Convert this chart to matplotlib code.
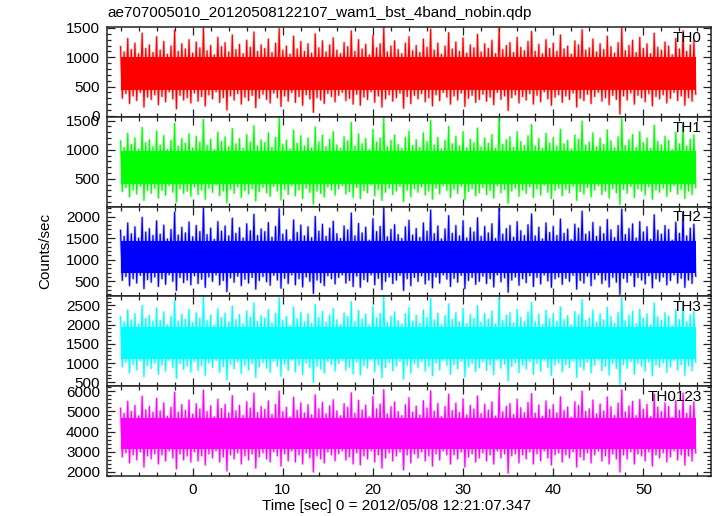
import matplotlib
matplotlib.use("Agg")
import matplotlib.pyplot as plt
from matplotlib.ticker import MultipleLocator, AutoMinorLocator
import numpy as np

plt.rcParams['font.family'] = ['Liberation Sans', 'DejaVu Sans']

title = "ae707005010_20120508122107_wam1_bst_4band_nobin.qdp"
xlabel = "Time [sec] 0 = 2012/05/08 12:21:07.347"
ylabel = "Counts/sec"
labels = ["TH0", "TH1", "TH2", "TH3", "TH0123"]
colors = ["#ff0000", "#00ff00", "#0000ff", "#00ffff", "#ff00ff"]
t_start, t_end = -8.0, 56.0

# per-bin maximum / minimum of the light curves (counts/sec)
th0_hi = [1180,1090,1320,1130,1240,1060,1410,1150,1210,1080,1350,1120,1270,1050,1190,1460,1100,1230,1140,1300,
          1070,1260,1160,1500,1110,1200,1040,1340,1180,1250,1090,1380,1130,1220,1060,1290,1170,1430,1100,1210,
          1150,1310,1080,1240,1490,1120,1190,1050,1360,1140,1270,1100,1230,1070,1400,1160,1280,1090,1210,1330,
          1120,1060,1250,1180,1450,1100,1300,1140,1220,1040,1370,1160,1230,1510,1090,1190,1280,1130,1060,1240,
          1350,1110,1200,1080,1310,1170,1480,1120,1240,1050,1190,1420,1140,1260,1100,1330,1070,1210,1160,1390,
          1090,1230,1150,1290,1060,1500,1130,1200,1250,1080,1340,1170,1110,1270,1440,1100,1220,1060,1300,1150,
          1240,1100,1380,1140,1190,1050,1280,1210,1470,1120,1160,1310,1090,1230,1130,1360,1180,1070,1250,1500,
          1110,1200,1290,1080,1340,1150,1230,1060,1410,1170,1120,1260,1190,1040,1320,1140,1450,1100,1210,1280]
th0_lo = [300,380,210,340,260,400,150,320,280,360,190,330,240,410,290,120,350,270,310,220,
          390,250,330,170,360,290,410,230,310,100,340,270,380,200,320,260,350,140,300,370,
          280,220,390,310,160,340,250,400,230,330,180,360,290,60,310,270,210,380,330,240,
          350,400,260,300,200,370,180,320,280,410,230,340,150,290,360,250,310,390,130,330,
          210,350,290,380,240,310,170,360,260,400,320,200,340,270,390,160,300,350,230,280,
          370,250,320,190,400,280,340,90,310,360,220,330,270,380,200,350,240,410,290,180,
          320,360,230,340,280,390,150,300,260,370,210,330,400,250,310,190,350,280,30,340,
          270,390,200,350,310,240,380,170,330,290,360,220,300,400,260,340,180,310,250,370]
th1_hi = [1150,1040,1280,1090,1200,1010,1380,1120,1170,1050,1320,1080,1240,1000,1160,1450,1060,1190,1110,1270,
          1030,1230,1130,1520,1070,1180,1000,1300,1140,1220,1050,1360,1100,1190,1020,1260,1130,1410,1060,1170,
          1120,1290,1040,1210,1550,1090,1160,1010,1330,1110,1240,1060,1200,1030,1390,1130,1250,1050,1180,1310,
          1080,1020,1220,1150,1470,1060,1270,1100,1190,1000,1350,1130,1200,1540,1050,1160,1250,1090,1020,1210,
          1320,1070,1170,1040,1290,1140,1500,1080,1210,1010,1160,1400,1100,1230,1060,1310,1030,1180,1120,1370,
          1050,1200,1110,1260,1020,1560,1090,1170,1220,1040,1310,1140,1070,1240,1430,1060,1190,1020,1280,1110,
          1210,1060,1350,1100,1160,1010,1250,1180,1490,1080,1130,1290,1050,1200,1090,1340,1150,1030,1220,1530,
          1070,1170,1260,1040,1310,1120,1200,1020,1420,1140,1080,1230,1160,1000,1300,1100,1460,1060,1180,1250]
th1_lo = [280,350,190,310,240,370,130,300,250,340,170,300,220,380,270,100,330,250,290,200,
          360,230,310,150,340,270,390,210,290,90,320,250,360,180,300,240,330,120,280,350,
          260,200,370,290,140,320,230,380,210,310,160,340,270,70,290,250,190,360,310,220,
          330,380,240,280,180,350,160,300,260,390,210,320,130,270,340,230,290,370,110,310,
          190,330,270,360,220,290,150,340,240,380,300,180,320,250,370,140,280,330,210,260,
          350,230,300,170,380,260,320,80,290,340,200,310,250,360,180,330,220,390,270,160,
          300,340,210,320,260,370,130,280,240,350,190,310,380,230,290,170,330,260,60,320,
          250,370,180,330,290,220,360,150,310,270,340,200,280,380,240,320,160,290,230,350]
th2_hi = [1680,1540,1850,1600,1760,1500,1980,1640,1720,1560,1900,1590,1800,1480,1700,2100,1570,1750,1620,1870,
          1530,1790,1650,2200,1580,1730,1470,1880,1660,1780,1550,1960,1610,1740,1500,1830,1670,2050,1560,1710,
          1650,1860,1520,1770,2180,1590,1690,1460,1920,1630,1800,1550,1760,1510,2000,1660,1820,1540,1730,1890,
          1600,1490,1780,1690,2080,1550,1840,1620,1750,1450,1950,1650,1770,2210,1530,1700,1810,1580,1490,1760,
          1910,1570,1720,1510,1850,1660,2150,1600,1780,1480,1710,2020,1610,1790,1550,1900,1500,1740,1640,1970,
          1540,1770,1620,1830,1490,2190,1590,1720,1790,1520,1880,1670,1560,1810,2060,1550,1750,1480,1850,1630,
          1770,1560,1940,1610,1710,1460,1820,1730,2120,1590,1650,1860,1540,1760,1600,1930,1690,1510,1790,2170,
          1580,1720,1830,1500,1880,1640,1760,1470,2040,1680,1590,1790,1700,1450,1870,1610,2090,1550,1730,1820]
th2_lo = [520,610,400,560,460,640,330,540,480,600,380,560,430,650,500,290,590,470,530,420,
          630,450,550,360,600,500,650,420,520,260,580,480,620,400,550,460,590,320,520,610,
          490,410,640,530,340,570,450,650,420,560,370,600,500,220,530,470,400,630,560,440,
          590,650,460,520,380,620,360,540,490,650,420,570,310,500,600,450,530,640,290,560,
          400,590,500,630,440,530,350,600,460,650,550,380,570,480,640,330,520,590,430,500,
          620,450,560,370,650,490,580,250,530,600,410,560,470,630,380,590,440,650,510,360,
          560,600,430,570,500,640,320,520,460,620,400,550,650,450,530,370,590,480,200,570,
          480,640,380,590,530,440,630,350,560,500,600,420,520,650,460,570,360,530,450,620]
th3_hi = [2200,2070,2380,2120,2280,2010,2500,2160,2240,2080,2430,2110,2330,1990,2220,2620,2090,2270,2140,2400,
          2050,2310,2170,2720,2100,2250,1990,2410,2180,2300,2060,2480,2130,2260,2020,2360,2190,2560,2080,2230,
          2170,2390,2040,2290,2700,2110,2210,1980,2450,2150,2320,2070,2280,2030,2520,2180,2340,2060,2250,2420,
          2120,2000,2300,2210,2600,2070,2370,2140,2270,1990,2470,2170,2290,2730,2050,2220,2330,2100,2010,2280,
          2440,2090,2240,2030,2380,2180,2680,2120,2300,2000,2230,2540,2130,2310,2070,2420,2020,2260,2160,2490,
          2060,2290,2140,2350,2010,2710,2110,2240,2310,2040,2400,2190,2080,2330,2580,2070,2270,2000,2370,2150,
          2290,2080,2460,2130,2230,1990,2340,2250,2650,2110,2170,2380,2060,2280,2120,2450,2210,2030,2310,2700,
          2100,2240,2350,2020,2400,2160,2280,1990,2560,2200,2110,2310,2220,1980,2390,2130,2610,2070,2250,2340]
th3_lo = [900,1020,740,960,820,1060,650,930,860,1000,710,950,790,1070,880,600,990,840,920,770,
          1040,810,940,680,1000,880,1070,760,910,560,970,850,1030,730,940,820,990,630,900,1010,
          870,760,1050,920,660,970,810,1080,770,950,700,1000,880,500,920,840,740,1040,960,790,
          990,1070,820,900,720,1030,690,930,870,1080,770,960,620,880,1010,800,920,1050,580,950,
          740,990,880,1040,790,920,670,1000,820,1070,940,710,960,850,1050,640,900,990,780,880,
          1030,810,950,700,1080,870,970,540,910,1000,750,950,840,1040,710,990,790,1070,890,680,
          950,1000,770,960,880,1050,630,900,820,1030,740,940,1080,800,920,690,990,860,450,960,
          860,1040,710,990,920,790,1030,670,950,890,1000,760,900,1070,820,960,680,930,800,1020]
th0123_hi = [5150,4900,5500,5000,5300,4780,5750,5080,5250,4950,5650,5020,5420,4760,5200,5950,4960,5330,5050,5560,
             4860,5380,5120,6050,4990,5280,4740,5600,5140,5350,4920,5780,5030,5300,4800,5480,5160,5900,4940,5240,
             5100,5520,4850,5340,6000,4990,5200,4720,5700,5060,5420,4920,5330,4830,5820,5130,5450,4880,5270,5580,
             5020,4780,5380,5200,5920,4900,5550,5070,5310,4730,5740,5120,5360,6080,4870,5230,5460,4990,4790,5330,
             5680,4960,5260,4820,5530,5160,6020,5010,5390,4750,5240,5850,5040,5410,4940,5620,4830,5300,5110,5760,
             4890,5350,5060,5470,4770,6100,4980,5250,5390,4840,5600,5180,4930,5440,5880,4910,5320,4760,5520,5090,
             5340,4920,5720,5040,5220,4710,5480,5290,6000,5000,5130,5560,4880,5360,5020,5710,5230,4800,5410,6060,
             4970,5260,5500,4790,5590,5100,5340,4740,5850,5210,4990,5420,5240,4700,5540,5050,5900,4900,5280,5470]
th0123_lo = [2750,2950,2450,2850,2600,3000,2250,2800,2650,2900,2400,2850,2550,3050,2700,2150,2900,2600,2800,2500,
             3000,2550,2800,2350,2900,2700,3050,2500,2750,2050,2850,2650,2950,2400,2800,2600,2900,2200,2750,2950,
             2650,2500,3000,2800,2300,2900,2550,3050,2500,2850,2400,2950,2700,2000,2800,2650,2450,3000,2850,2550,
             2900,3050,2600,2750,2400,2950,2350,2800,2650,3050,2500,2850,2200,2700,2950,2550,2800,3000,2100,2850,
             2450,2900,2700,3000,2550,2800,2300,2900,2600,3050,2850,2400,2850,2650,3000,2250,2750,2900,2500,2700,
             2950,2550,2850,2400,3050,2700,2900,1950,2800,2900,2450,2850,2650,3000,2400,2900,2550,3050,2700,2350,
             2850,2950,2500,2850,2700,3000,2250,2750,2600,2950,2450,2850,3050,2550,2800,2400,2900,2650,2000,2850,
             2650,3000,2400,2900,2800,2550,3000,2300,2850,2700,2950,2500,2750,3050,2600,2850,2350,2800,2550,2950]

# densest part of each band (always filled)
core_lo = [440, 410, 690, 1110, 3130]
core_hi = [1010, 975, 1430, 1950, 4680]

# y-axis ranges
y_min = [-17, 22, 150, 396, 1800]
y_max = [1517, 1565, 2230, 2735, 6250]
y_major = [500, 500, 500, 500, 1000]
x_min, x_max = -9.5, 57.5

his = [th0_hi, th1_hi, th2_hi, th3_hi, th0123_hi]
los = [th0_lo, th1_lo, th2_lo, th3_lo, th0123_lo]

W, H = 717, 516
fig = plt.figure(figsize=(W / 100, H / 100), dpi=100)
left, right = 107 / W, 711 / W
top_px, bot_px = 27, 476
ph = (bot_px - top_px) / 5

fs = 11
for k in range(5):
    y0 = 1 - (top_px + (k + 1) * ph) / H
    ax = fig.add_axes([left, y0, right - left, ph / H])
    hi = np.asarray(his[k], float)
    lo = np.asarray(los[k], float)
    n = len(hi)
    dt = (t_end - t_start) / n
    t = t_start + dt * np.arange(n)
    xs = np.empty(2 * n); ys = np.empty(2 * n)
    xs[0::2] = t; xs[1::2] = t + dt / 2
    ys[0::2] = hi; ys[1::2] = lo
    ax.plot(xs, ys, color=colors[k], lw=1.8, alpha=0.28, zorder=2)
    ax.fill_between([xs[0], xs[-1]], core_lo[k], core_hi[k],
                    color=colors[k], lw=0, zorder=3)
    ax.plot(xs, ys, color=colors[k], lw=0.8, zorder=4)
    ax.set_xlim(x_min, x_max)
    ax.set_ylim(y_min[k], y_max[k])
    ax.xaxis.set_major_locator(MultipleLocator(10))
    ax.xaxis.set_minor_locator(MultipleLocator(2))
    ax.yaxis.set_major_locator(MultipleLocator(y_major[k]))
    ax.yaxis.set_minor_locator(AutoMinorLocator(5))
    ax.tick_params(which='both', direction='in', top=True, right=True,
                   labelsize=fs, width=0.9, colors='#222222', labelcolor='black')
    ax.tick_params(which='major', length=6, pad=5)
    ax.tick_params(which='minor', length=3)
    for s in ax.spines.values():
        s.set_linewidth(1.1)
        s.set_color('#222222')
        s.set_zorder(6)
    if k < 4:
        ax.tick_params(labelbottom=False)
    ax.text(0.985, 0.88, labels[k], transform=ax.transAxes, ha='right',
            va='center', fontsize=fs, zorder=7)

fig.text(left, 1 - 13 / H, title, ha='left', va='center', fontsize=fs)
fig.text(397 / W, 1 - 506 / H, xlabel, ha='center', va='center', fontsize=fs)
fig.text(45 / W, 1 - 251 / H, ylabel, ha='center', va='center', rotation=90, fontsize=fs)

fig.savefig("out.png", dpi=100)
